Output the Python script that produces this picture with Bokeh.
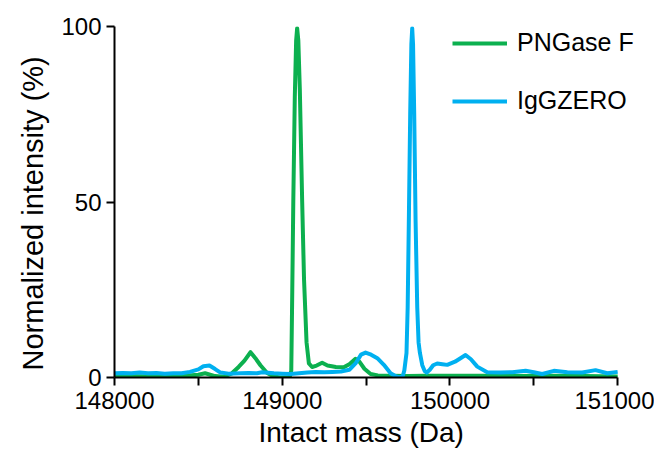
from bokeh.plotting import figure
from bokeh.models import Range1d, FixedTicker, Legend, LegendItem, NumeralTickFormatter, Title
from bokeh.embed import file_html
from bokeh.resources import INLINE

# PNGase F spectrum (mass in Da, normalized intensity in %)
pngase_mass = [148000, 148100, 148200, 148300, 148400, 148500, 148540, 148600, 148650,
               148700, 148740, 148775, 148811, 148840, 148870, 148910, 148950, 148990,
               149030, 149045, 149054, 149060, 149066, 149075, 149083, 149089, 149096,
               149105, 149119, 149130, 149145, 149159, 149178, 149205, 149238, 149270,
               149320, 149367, 149400, 149437, 149460, 149490, 149527, 149570, 149650,
               149750, 149850, 150000, 150200, 150400, 150600, 150800, 151000]
pngase_int = [0.3, 0.4, 0.3, 0.3, 0.4, 0.8, 1.2, 0.4, 0.2,
              1.2, 3.0, 4.8, 7.2, 5.5, 3.5, 1.3, 0.3, 0.0,
              0.0, 0.2, 2.0, 25.0, 50.0, 80.0, 96.0, 99.5, 96.0,
              82.0, 50.0, 28.0, 10.0, 4.0, 3.0, 3.4, 4.2, 3.4,
              3.0, 2.9, 3.8, 5.3, 4.5, 2.5, 1.0, 0.6, 0.5,
              0.4, 0.5, 0.5, 0.5, 0.4, 0.5, 0.4, 0.3]

# IgGZERO spectrum
iggzero_mass = [148000, 148050, 148100, 148150, 148200, 148250, 148300, 148350, 148400,
                148450, 148500, 148530, 148566, 148600, 148632, 148680, 148750, 148800,
                148850, 148880, 148950, 149000, 149050, 149100, 149150, 149200, 149250,
                149300, 149350, 149400, 149437, 149470, 149497, 149530, 149567, 149606,
                149646, 149680, 149700, 149718, 149728, 149741, 149748, 149755, 149763,
                149770, 149775, 149780, 149787, 149795, 149805, 149813, 149821, 149835,
                149850, 149862, 149880, 149900, 149924, 149955, 149984, 150030, 150063,
                150093, 150125, 150163, 150222, 150302, 150372, 150451, 150500, 150550,
                150620, 150700, 150789, 150868, 150938, 151000]
iggzero_int = [1.2, 1.3, 1.2, 1.4, 1.2, 1.3, 1.1, 1.2, 1.2,
               1.6, 2.3, 3.2, 3.4, 2.4, 1.4, 1.1, 1.2, 1.3,
               1.2, 1.5, 1.2, 1.1, 1.0, 1.2, 1.4, 1.6, 1.5,
               1.6, 1.7, 2.2, 4.0, 6.5, 7.1, 6.5, 5.5, 3.6,
               1.2, 0.3, 0.0, 0.3, 2.0, 7.0, 20.0, 45.0, 75.0,
               95.0, 99.5, 95.0, 75.0, 45.0, 20.0, 10.0, 7.0, 3.5,
               1.8, 1.4, 2.2, 3.5, 4.0, 3.8, 3.6, 4.5, 5.5,
               6.4, 5.2, 3.1, 1.5, 1.4, 1.5, 1.9, 1.5, 1.0,
               1.9, 1.5, 1.4, 2.1, 1.2, 1.6]

x_ticks = [148000, 149000, 150000, 151000]
x_minor_ticks = [148500, 149500, 150500]
y_ticks = [0, 50, 100]

GREEN = "#0cb04f"
BLUE = "#00b0f0"
FONT = "Liberation Sans"

p = figure(frame_width=530, frame_height=351, output_backend="svg", toolbar_location=None,
           x_range=Range1d(148000, 151160), y_range=Range1d(0, 100),
           min_border_left=114, min_border_right=10, min_border_top=26, min_border_bottom=40)
p.outline_line_color = None
p.xgrid.grid_line_color = None
p.ygrid.grid_line_color = None

g = p.line(pngase_mass, pngase_int, line_color=GREEN, line_width=4, line_join="round")
b = p.line(iggzero_mass, iggzero_int, line_color=BLUE, line_width=4, line_join="round")

p.xaxis.ticker = FixedTicker(ticks=x_ticks, minor_ticks=x_minor_ticks)
p.xaxis.formatter = NumeralTickFormatter(format="0")
p.xaxis.bounds = (148000, 151000)
p.yaxis.ticker = FixedTicker(ticks=y_ticks)
for ax in (p.xaxis, p.yaxis):
    ax.axis_line_color = "black"
    ax.axis_line_width = 2
    ax.major_tick_line_color = "black"
    ax.major_tick_line_width = 2
    ax.minor_tick_line_color = "black"
    ax.minor_tick_line_width = 2
    ax.major_tick_in = 0
    ax.major_tick_out = 8
    ax.minor_tick_in = 0
    ax.minor_tick_out = 8
    ax.major_label_text_font = FONT
    ax.major_label_text_font_size = "24px"
    ax.major_label_text_color = "black"
p.yaxis.minor_tick_line_color = None
p.xaxis.major_label_standoff = 6
p.yaxis.major_label_standoff = 5

xtitle = Title(text="Intact mass (Da)", align="left", offset=144, standoff=6,
               text_font=FONT, text_font_size="28px", text_font_style="normal",
               text_color="black")
p.add_layout(xtitle, "below")

ytitle = Title(text="Normalized intensity (%)", align="left", offset=7, standoff=20,
               text_font=FONT, text_font_size="29px", text_font_style="normal",
               text_color="black")
p.add_layout(ytitle, "left")

legend = Legend(items=[LegendItem(label="PNGase F", renderers=[g]),
                       LegendItem(label="IgGZERO", renderers=[b])],
                location=(338, 262), orientation="vertical")
legend.border_line_color = None
legend.background_fill_alpha = 0
legend.padding = 0
legend.margin = 0
legend.glyph_width = 55
legend.glyph_height = 28
legend.label_height = 28
legend.label_standoff = 10
legend.spacing = 29
legend.label_text_font = FONT
legend.label_text_font_size = "25px"
legend.label_text_color = "black"
p.add_layout(legend)

open("out.html", "w").write(file_html(p, INLINE))
